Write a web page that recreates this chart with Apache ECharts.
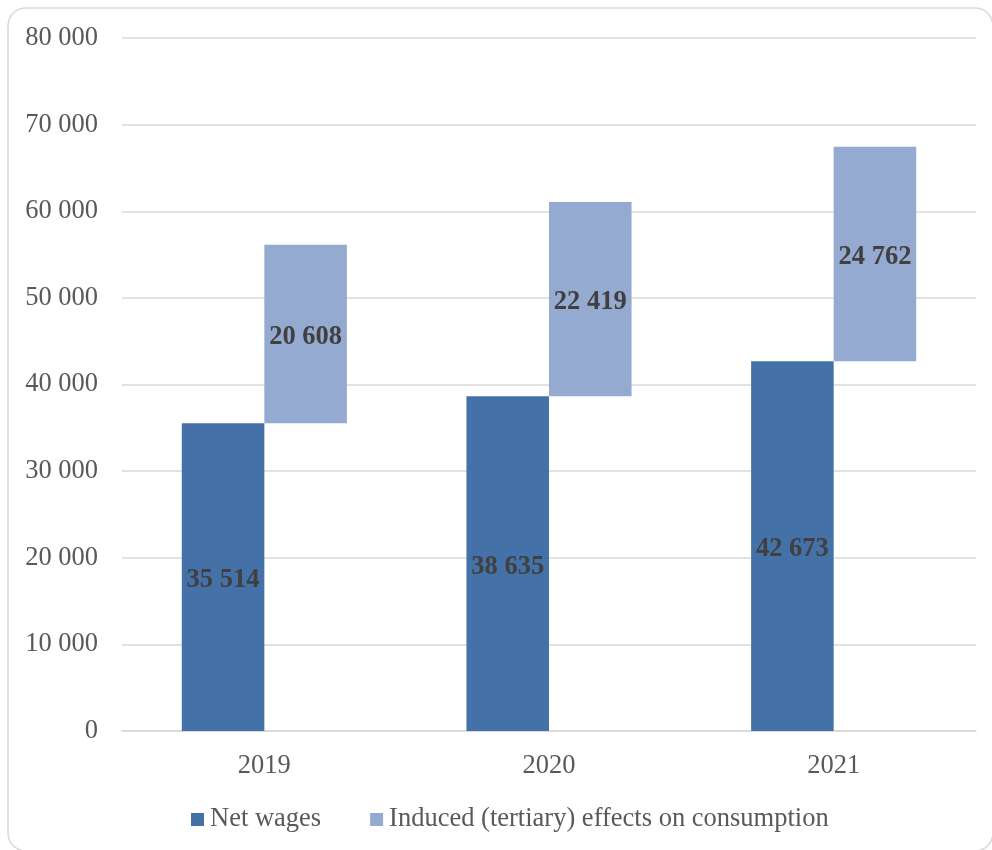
<!DOCTYPE html>
<html>
<head>
<meta charset="utf-8">
<script src="https://cdn.jsdelivr.net/npm/echarts@6/dist/echarts.min.js"></script>
<style>
  html, body { margin: 0; padding: 0; background: #fff; }
  #chart { width: 992px; height: 850px; }
</style>
</head>
<body>
<div id="chart"></div>
<script>
// Years on the category axis
const years = ['2019', '2020', '2021'];
// Net wages (base bars)
const netWages = [35514, 38635, 42673];
// Induced (tertiary) effects on consumption (floating bars on top of net wages)
const induced = [20608, 22419, 24762];

const seriesNames = ['Net wages', 'Induced (tertiary) effects on consumption'];
const colors = ['#4472a8', '#95aad1'];

// Space-separated thousands, e.g. 35 514
function fmt(v) {
  return String(v).replace(/\B(?=(\d{3})+(?!\d))/g, ' ');
}

const serif = '"Liberation Serif", "Times New Roman", serif';
const labelStyle = {
  show: true,
  position: 'inside',
  offset: [0, 3],
  fontFamily: serif,
  fontSize: 26.5,
  fontWeight: 'bold',
  color: '#404040',
  formatter: p => fmt(p.value)
};

const chart = echarts.init(document.getElementById('chart'));
chart.setOption({
  animation: false,
  backgroundColor: '#fff',
  graphic: [{
    type: 'rect',
    shape: { x: 8, y: 8, width: 985, height: 843, r: 18 },
    style: { fill: 'none', stroke: '#d9d9d9', lineWidth: 1.5 },
    silent: true,
    z: -1
  }],
  grid: { left: 122, right: 16, top: 38, bottom: 119, containLabel: false },
  legend: {
    data: seriesNames,
    bottom: 12,
    left: 186,
    itemWidth: 13,
    itemHeight: 13,
    itemGap: 49,
    icon: 'rect',
    textStyle: { fontFamily: serif, fontSize: 26.5, color: '#595959', padding: [0, 0, 0, 1] }
  },
  xAxis: {
    type: 'category',
    data: years,
    axisLine: { lineStyle: { color: '#d9d9d9', width: 1.5 } },
    axisTick: { show: false },
    axisLabel: { fontFamily: serif, fontSize: 26.5, color: '#595959', margin: 22 }
  },
  yAxis: {
    type: 'value',
    min: 0,
    max: 80000,
    interval: 10000,
    axisLine: { show: false },
    axisTick: { show: false },
    splitLine: { lineStyle: { color: '#d9d9d9', width: 1.5 } },
    axisLabel: {
      fontFamily: serif, fontSize: 26.5, color: '#595959', margin: 24,
      formatter: v => fmt(v)
    }
  },
  series: [
    {
      name: seriesNames[0],
      type: 'bar',
      stack: 'net',
      data: netWages,
      barGap: '0%',
      barCategoryGap: '42%',
      itemStyle: { color: colors[0] },
      label: labelStyle
    },
    {
      name: 'base',
      type: 'bar',
      stack: 'induced',
      data: netWages,
      itemStyle: { color: 'transparent' },
      emphasis: { disabled: true },
      silent: true
    },
    {
      name: seriesNames[1],
      type: 'bar',
      stack: 'induced',
      data: induced,
      itemStyle: { color: colors[1] },
      label: labelStyle
    }
  ]
});
</script>
</body>
</html>
